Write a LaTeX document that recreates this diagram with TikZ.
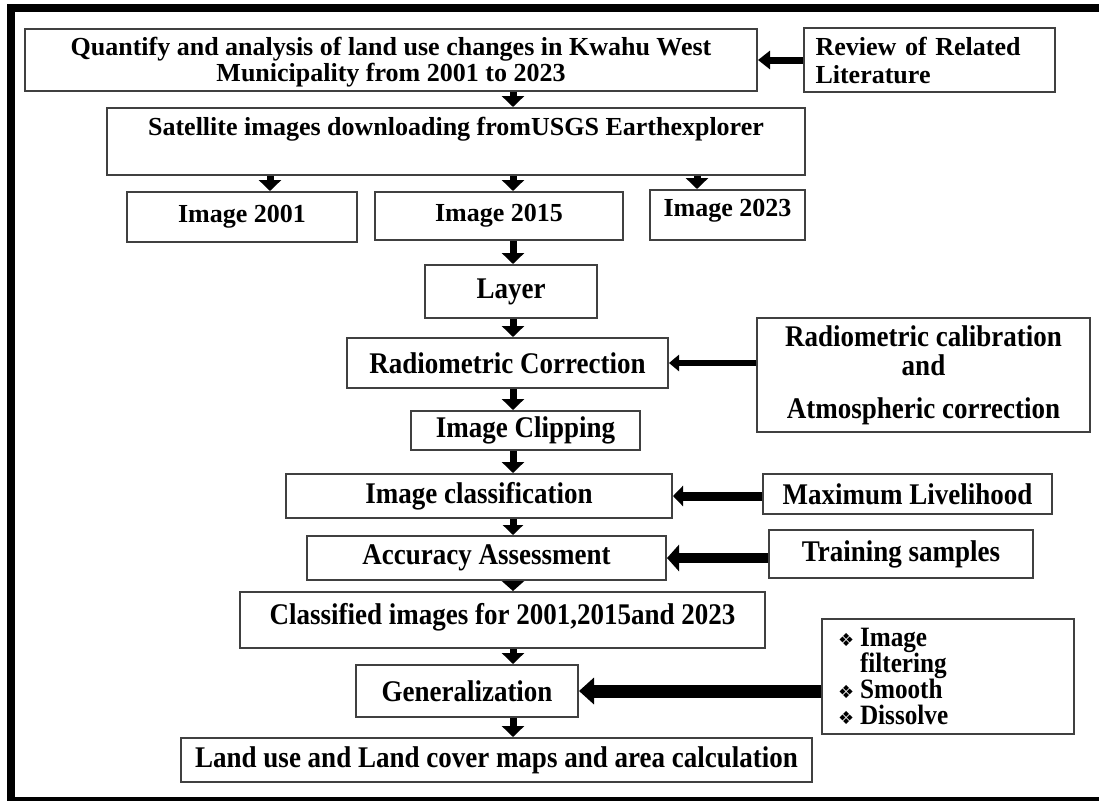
\documentclass[tikz,border=0pt]{standalone}
\usepackage{fontspec}
\setmainfont{Liberation Serif}
\newfontfamily\narrowserif{Liberation Serif}[FakeStretch=0.9]
\newfontfamily\dingfont{DejaVu Sans}
\usetikzlibrary{arrows.meta}

\newcommand{\bul}{\makebox[11pt][l]{\dingfont\fontsize{9}{9}\selectfont ❖}}

\tikzset{
    box/.style={draw=black!75, line width=1pt, fill=white, inner sep=0pt, align=center},
    upper/.style={font=\fontsize{13}{13}\selectfont\bfseries},
    lower/.style={font=\narrowserif\fontsize{15}{14.5}\selectfont\bfseries},
    sz/.style 2 args={minimum width=#1pt, minimum height=#2pt},
    lift/.style={text height=9pt, text depth=#1},
    flow/.style n args={3}{line width=#1, -{Triangle[length=#2, width=#3]}},
}

\begin{document}
\begin{tikzpicture}[x=0.5pt, y=-0.5pt]
    \useasboundingbox (0,0) rectangle (1099,800);
    \draw[line width=4pt] (11,8) rectangle (1120,801);

    \coordinate (spine) at (513,0);
    \coordinate (tapL) at (270,0);
    \coordinate (tapR) at (697,0);

    \node[box, upper, sz={366}{31}] (goal) at (391,59.5)
        {\rule{0pt}{12pt}Quantify and analysis of land use changes in Kwahu West\\Municipality from 2001 to 2023};
    \node[box, upper, sz={125.5}{32}, text width=114pt, align=left] (review) at (929.5,60)
        {Review of Related\\[1pt]Literature};
    \node[box, upper, sz={349}{33.5}, lift=14.9pt] (sat) at (456,141.5)
        {Satellite images downloading fromUSGS Earthexplorer};
    \node[box, upper, sz={115}{25}] (img01) at (242,217) {Image 2001};
    \node[box, upper, sz={124}{24}] (img15) at (499,216) {Image 2015};
    \node[box, upper, sz={77.5}{25}, lift=7.4pt] (img23) at (727.5,215) {Image 2023};

    \node[box, lower, sz={86}{26.5}] (layer) at (511,291.5) {Layer};
    \node[box, lower, sz={160.5}{25}] (radcorr) at (507.5,363) {Radiometric Correction};
    \node[box, lower, sz={166.5}{57}] (radcal) at (923.5,375)
        {Radiometric calibration\\and\\[7pt]Atmospheric correction};
    \node[box, lower, sz={114.5}{19.5}] (clip) at (525.5,430.5) {Image Clipping};
    \node[box, lower, sz={193}{22}] (class) at (479,496) {Image classification};
    \node[box, lower, sz={144.5}{20}] (maxlik) at (907.5,494) {Maximum Livelihood};
    \node[box, lower, sz={179.5}{22}] (acc) at (486.5,558) {Accuracy Assessment};
    \node[box, lower, sz={132}{24}] (train) at (901,554) {Training samples};
    \node[box, lower, sz={262.5}{28}, text height=10pt, text depth=6pt] (classified) at (502.5,620)
        {Classified images for 2001,2015and 2023};
    \node[box, sz={126}{57.5}, text width=110pt, align=left,
        font=\narrowserif\fontsize{14}{13}\selectfont\bfseries] (tools) at (948,676)
        {\bul Image\\\hspace*{11pt}filtering\\\bul Smooth\\\bul Dissolve};
    \node[box, lower, sz={111}{26}] (gen) at (467,691) {Generalization};
    \node[box, lower, sz={315.5}{22}] (maps) at (496.5,760)
        {Land use and Land cover maps and area calculation};

    % main column
    \draw[flow={3.5pt}{5.5pt}{11pt}] (goal.south -| spine) -- (sat.north -| spine);
    \draw[flow={3.5pt}{5.5pt}{11pt}] (sat.south -| tapL) -- (img01.north -| tapL);
    \draw[flow={3.5pt}{5.5pt}{11pt}] (sat.south -| spine) -- (img15.north -| spine);
    \draw[flow={3.5pt}{5.5pt}{11pt}] (sat.south -| tapR) -- (img23.north -| tapR);
    \draw[flow={3.5pt}{5.5pt}{11pt}] (img15.south -| spine) -- (layer.north -| spine);
    \draw[flow={3.5pt}{5.5pt}{11pt}] (layer.south -| spine) -- (radcorr.north -| spine);
    \draw[flow={3.5pt}{5.5pt}{11pt}] (radcorr.south -| spine) -- (clip.north -| spine);
    \draw[flow={3.5pt}{5.5pt}{11pt}] (clip.south -| spine) -- (class.north -| spine);
    \draw[flow={3.5pt}{5pt}{10pt}] (class.south -| spine) -- (acc.north -| spine);
    \draw[flow={3.5pt}{5pt}{11pt}] (acc.south -| spine) -- (classified.north -| spine);
    \draw[flow={3.5pt}{5.5pt}{11pt}] (classified.south -| spine) -- (gen.north -| spine);
    \draw[flow={3.5pt}{5.5pt}{11pt}] (gen.south -| spine) -- (maps.north -| spine);

    % side inputs
    \draw[flow={3.5pt}{6pt}{9pt}] (review.west) -- (review.west -| goal.east);
    \draw[flow={3pt}{5pt}{8pt}] (radcal.west |- radcorr.east) -- (radcorr.east);
    \draw[flow={4.5pt}{5pt}{10pt}] (maxlik.west |- class.east) -- (class.east);
    \draw[flow={5pt}{6pt}{13pt}] (train.west |- acc.east) -- (acc.east);
    \draw[flow={6.5pt}{7.5pt}{13pt}] (tools.west |- gen.east) -- (gen.east);
\end{tikzpicture}
\end{document}
